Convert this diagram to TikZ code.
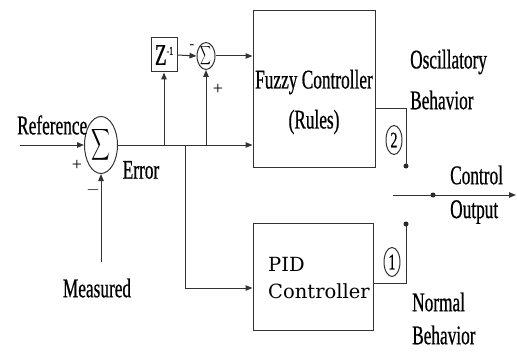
\documentclass[tikz,border=0pt]{standalone}
\usepackage{fontspec}
\setmainfont{Liberation Serif}
\newfontfamily\condfont[FakeStretch=0.64,FakeBold=0.6]{Liberation Serif}
\newfontfamily\pidfont{DejaVu Serif}
\usetikzlibrary{shapes.geometric,arrows.meta,positioning,calc}
\newcommand{\SumSign}[3]{\smash{\makebox[0pt]{\raisebox{-#3}{\scalebox{#1}[#2]{$\displaystyle\sum$}}}}}
\tikzset{
  wire/.style={draw=black!80, line width=1pt},
  arr/.style={wire, -{Triangle[length=7pt,width=5.5pt]}},
  blk/.style={wire, fill=white, inner sep=0pt},
  sumbig/.style={wire, ellipse, inner sep=0pt, minimum width=33pt, minimum height=57pt},
  sumsmall/.style={wire, ellipse, inner sep=0pt, minimum width=18pt, minimum height=27pt},
  lbl/.style={font=\condfont\fontsize{27}{40}\selectfont, inner sep=0pt},
  sgn/.style={font=\fontsize{18}{18}\selectfont, inner sep=0pt},
  portnum/.style={wire, ellipse, inner sep=0pt, minimum width=16pt, minimum height=29pt,
    font=\condfont\fontsize{22}{22}\selectfont},
  swdot/.style={circle, fill=black!85, inner sep=0pt, minimum size=5pt},
}

\begin{document}
\begin{tikzpicture}[x=1pt,y=-1pt]
  \useasboundingbox (0,0) rectangle (517,353);
  % junctions and blocks
  \node[sumbig] (sumA) at (101,145) {\SumSign{1.3}{2.2}{5.5pt}};
  \node[blk, minimum width=26pt, minimum height=34pt, font=\condfont\fontsize{30}{30}\selectfont]
    (zinv) at (164,55) {Z\raisebox{10pt}{\fontsize{12}{12}\selectfont -1}};
  \node[sumsmall] (sumB) at (206,56) {\SumSign{0.75}{1.3}{3.2pt}};
  \node[blk, minimum width=122pt, minimum height=156pt] (fuzzy) at (314,89) {};
  \node[lbl, align=center] (fuzzytxt) at ([yshift=-13pt]fuzzy.center) {Fuzzy Controller\\(Rules)};
  \node[blk, minimum width=120pt, minimum height=107pt] (pid) at (313,276.5) {};
  \node[inner sep=0pt, align=left, anchor=west, font=\pidfont\fontsize{19.5}{27}\selectfont]
    (pidtxt) at (268,278) {PID\\Controller};

  % labels
  \node[lbl, anchor=west] (reflbl) at (17,125) {Reference};
  \node[lbl] (errlbl) at (141,170) {Error};
  \node[lbl] (measlbl) at (97,288) {Measured};
  \node[lbl, anchor=west] (osclbl) at (410,62) {Oscillatory};
  \node[lbl, anchor=west] (oscbeh) at (410,100) {Behavior};
  \node[lbl, anchor=west] (ctrllbl) at (450,175) {Control};
  \node[lbl, anchor=west] (outlbl) at (450,212) {Output};
  \node[lbl, anchor=west] (normlbl) at (412,302) {Normal};
  \node[lbl, anchor=west] (normbeh) at (412,335) {Behavior};
  \node[sgn] (plusA) at (77,165) {+};
  \node[sgn] (minusA) at (93,190) {$-$};
  \node[sgn, font=\fontsize{14}{14}\selectfont] (minusB) at (192,47) {-};
  \node[sgn] (plusB) at (218,89) {+};

  % switch points
  \coordinate (ref) at (20,145);
  \coordinate (meas) at (101,262);
  \coordinate (br1) at (zinv.south |- sumA.east);
  \coordinate (br2) at (185,145);
  \coordinate (br3) at (sumB.south |- sumA.east);
  \node[swdot] (sw2) at (406,166) {};
  \node[swdot] (sw1) at (406,224) {};
  \coordinate (outL) at (393,195);
  \node[swdot] (outP) at (433,195) {};
  \coordinate (outR) at (516,195);
  \node[portnum] (pn2) at (394,140) {2};
  \node[portnum] (pn1) at (392,262) {1};

  % connectors
  \draw[arr] (ref) -- (sumA.west);
  \draw[arr] (meas) -- (sumA.south);
  \draw[arr] (sumA.east) -- (sumA.east -| fuzzy.west);
  \draw[arr] (br1) -- (zinv.south);
  \draw[arr] (br3) -- (sumB.south);
  \draw[arr] (zinv.east) -- (sumB.west);
  \draw[arr] (sumB.east) -- (sumB.east -| fuzzy.west);
  \draw[arr] (br2) |- ([yshift=-11.5pt]pid.west);
  \draw[wire] ([yshift=-19pt]fuzzy.east) -| (sw2.center);
  \draw[wire] ([yshift=-6.5pt]pid.east) -| (sw1.center);
  \draw[wire] (outL) -- (outP.center);
  \draw[arr] (outP.center) -- (outR);
\end{tikzpicture}
\end{document}
